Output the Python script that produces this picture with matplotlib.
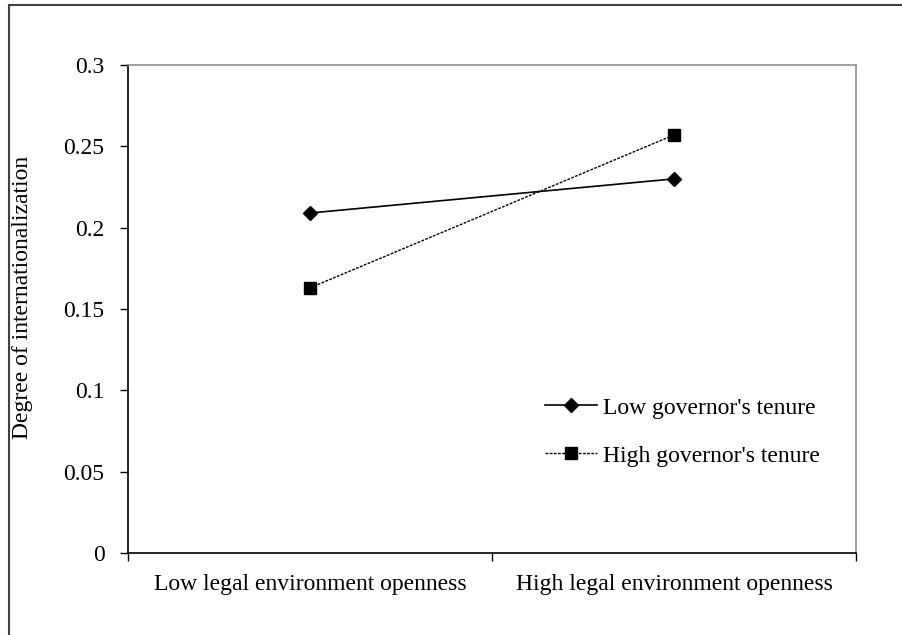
import matplotlib
matplotlib.use("Agg")
import matplotlib.pyplot as plt
from matplotlib.patches import Rectangle

categories = ["Low legal environment openness", "High legal environment openness"]
low_tenure = [0.209, 0.230]
high_tenure = [0.163, 0.257]
series_names = ["Low governor's tenure", "High governor's tenure"]
yticks = [0, 0.05, 0.1, 0.15, 0.2, 0.25, 0.3]
ytick_labels = ["0", "0.05", "0.1", "0.15", "0.2", "0.25", "0.3"]

plt.rcParams['font.family'] = ['Liberation Serif', 'DejaVu Serif']
FS = 17

fig = plt.figure(figsize=(9.02, 6.35), dpi=100)
# outer frame
fig.patches.append(Rectangle((9/902, -0.05), 1.2, 1 - 5/635 + 0.05, transform=fig.transFigure,
                             fill=False, edgecolor='#404040', linewidth=1.5))

ax = fig.add_axes([128/902, 1-553/635, (856-128)/902, (553-65)/635])
x = list(range(len(categories)))
ax.plot(x, low_tenure, color='black', linewidth=1.2, marker='D', markersize=7,
        label=series_names[0])
ax.plot(x, high_tenure, color='black', linewidth=1.0, linestyle=(0, (2, 1)), marker='s',
        markersize=8, label=series_names[1])

ax.set_xlim(-0.5, 1.5)
ax.set_ylim(0, 0.3)
ax.set_yticks(yticks)
ax.set_yticklabels(ytick_labels, fontsize=FS)
ax.set_xticks([-0.5, 0.5, 1.5])
ax.set_xticklabels([])
ax.set_xticks(x, minor=True)
ax.set_xticklabels(categories, minor=True, fontsize=FS)
ax.tick_params(axis='x', which='minor', length=0, pad=15)
ax.tick_params(axis='x', which='major', length=6, width=1, color='black')
ax.tick_params(axis='y', length=6, width=1, pad=11)

for s in ['left', 'bottom']:
    ax.spines[s].set_color('black')
    ax.spines[s].set_linewidth(1.2)
for s in ['top', 'right']:
    ax.spines[s].set_color('#909090')
    ax.spines[s].set_linewidth(1.2)

ax.set_ylabel("Degree of internationalization", fontsize=FS)
ax.yaxis.set_label_coords((33-128)/728, (553-297)/488)

leg = ax.legend(loc='upper left', bbox_to_anchor=((545-128)/728, (553-397)/488),
                frameon=False, fontsize=FS, handlelength=2.2, handletextpad=0.25,
                labelspacing=1.13, borderpad=0, borderaxespad=0)

fig.savefig("out.png", dpi=100)
